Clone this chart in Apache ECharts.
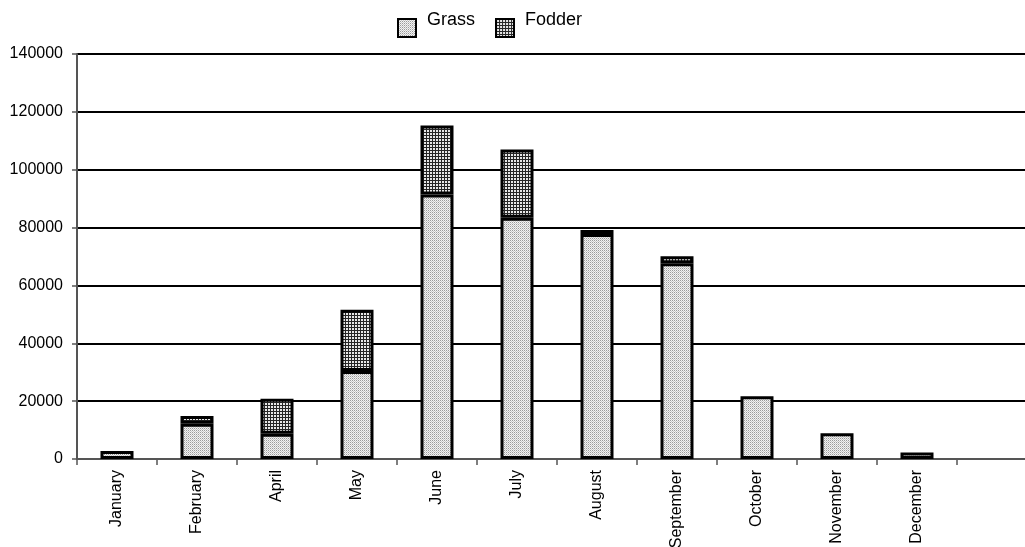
<!DOCTYPE html>
<html>
<head>
<meta charset="utf-8">
<script src="https://cdn.jsdelivr.net/npm/echarts@6/dist/echarts.min.js"></script>
<style>
html,body{margin:0;padding:0;background:#fff;overflow:hidden;}
#chart{width:1025px;height:547px;}
</style>
</head>
<body>
<div id="chart"></div>
<script>
var categories = ['January','February','April','May','June','July','August','September','October','November','December',''];
var grass  = [2800, 12200, 8700, 30400, 91400, 83400, 77800, 67700, 21700, 8900, 2250, null];
var fodder = [null, 2700, 12100, 21200, 23900, 23600, 1400, 2400, null, null, null, null];
var yTicks = {min: 0, max: 140000, interval: 20000};

function makePattern(kind) {
  var c = document.createElement('canvas');
  var g;
  if (kind === 'grass') {
    c.width = 2; c.height = 2;
    g = c.getContext('2d');
    g.fillStyle = '#f2f2f2'; g.fillRect(0,0,2,2);
    g.fillStyle = '#9a9a9a'; g.fillRect(0,0,1,1);
    g.fillStyle = '#c8c8c8'; g.fillRect(1,1,1,1);
  } else {
    c.width = 3; c.height = 3;
    g = c.getContext('2d');
    g.fillStyle = '#e8e8e8'; g.fillRect(0,0,3,3);
    g.fillStyle = '#262626'; g.fillRect(0,0,3,1); g.fillRect(0,0,1,3);
  }
  return {image: c, repeat: 'repeat'};
}

var chart = echarts.init(document.getElementById('chart'), null, {renderer: 'canvas', width: 1025, height: 547});
var font = 'Liberation Sans, Arial, sans-serif';
chart.setOption({
  animation: false,
  backgroundColor: '#fff',
  textStyle: {fontFamily: font},
  legend: {
    top: 6, left: 392,
    itemWidth: 18, itemHeight: 18, itemGap: 20,
    icon: 'rect',
    formatter: '{t|{name}}',
    textStyle: {
      fontSize: 18, color: '#000', fontFamily: font,
      rich: {t: {fontSize: 18, color: '#000', fontFamily: font, padding: [0, 0, 16, 6]}}
    },
    data: ['Grass', 'Fodder']
  },
  grid: {left: 77, top: 54, height: 405, width: 960, containLabel: false, outerBoundsMode: 'none'},
  xAxis: {
    type: 'category',
    data: categories,
    axisLine: {lineStyle: {color: '#555', width: 2}},
    axisTick: {show: true, length: 6, lineStyle: {color: '#555', width: 1.5}},
    axisLabel: {rotate: 90, fontSize: 16, color: '#000', margin: 11, fontFamily: font, interval: 0}
  },
  yAxis: {
    type: 'value',
    min: yTicks.min, max: yTicks.max, interval: yTicks.interval,
    axisLine: {show: true, lineStyle: {color: '#555', width: 2}},
    axisTick: {show: true, length: 5, lineStyle: {color: '#555', width: 1.5}},
    axisLabel: {fontSize: 16, color: '#000', margin: 14, fontFamily: font, formatter: function (v) { return String(v); }},
    splitLine: {show: true, lineStyle: {color: '#000', width: 2}}
  },
  series: [
    {
      name: 'Grass', type: 'bar', stack: 'total', data: grass, barWidth: 33,
      itemStyle: {color: makePattern('grass'), borderColor: '#000', borderWidth: 3}
    },
    {
      name: 'Fodder', type: 'bar', stack: 'total', data: fodder, barWidth: 33,
      itemStyle: {color: makePattern('fodder'), borderColor: '#000', borderWidth: 3}
    }
  ]
});
</script>
</body>
</html>
